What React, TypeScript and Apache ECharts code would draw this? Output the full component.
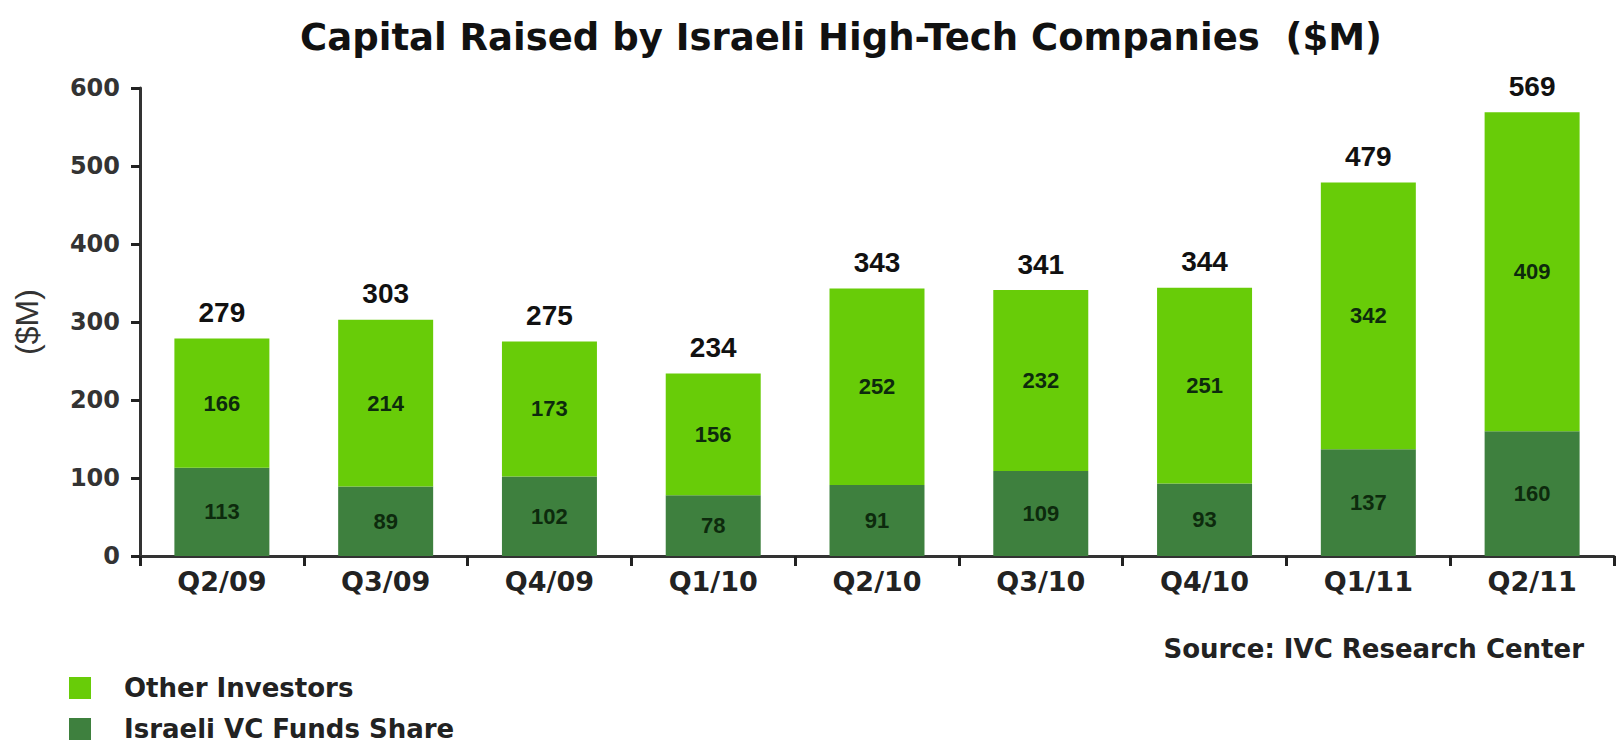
import React, { useEffect, useRef } from "react";
import * as echarts from "echarts";

const categories = ["Q2/09", "Q3/09", "Q4/09", "Q1/10", "Q2/10", "Q3/10", "Q4/10", "Q1/11", "Q2/11"];
const israeliVC = [113, 89, 102, 78, 91, 109, 93, 137, 160];
const otherInvestors = [166, 214, 173, 156, 252, 232, 251, 342, 409];
const totals = [279, 303, 275, 234, 343, 341, 344, 479, 569];
const yTicks = [0, 100, 200, 300, 400, 500, 600];
const legendNames = ["Other Investors", "Israeli VC Funds Share"];

const FONT = "Liberation Sans, Arial, sans-serif";
const WIDE = "DejaVu Sans, Verdana, sans-serif";
const LIGHT = "#68cc08";
const DARK = "#3e803e";

const legendBase = {
  orient: "horizontal",
  left: 69,
  padding: 0,
  itemWidth: 22,
  itemHeight: 22,
  icon: "rect",
  textStyle: { fontFamily: WIDE, fontSize: 26, fontWeight: "bold", color: "#222", padding: [0, 0, 0, 28] },
};

export default function App() {
  const ref = useRef<HTMLDivElement>(null);
  useEffect(() => {
    if (!ref.current) return;
    const chart = echarts.init(ref.current, undefined, { renderer: "svg" });
    chart.setOption({
      animation: false,
      backgroundColor: "#ffffff",
      title: {
        text: "Capital Raised by Israeli High-Tech Companies  ($M)",
        left: 836,
        textAlign: "center",
        top: 14,
        textStyle: { fontFamily: WIDE, fontSize: 37, fontWeight: "bold", color: "#111" },
      },
      legend: [
        { ...legendBase, data: [legendNames[0]], top: 675 },
        { ...legendBase, data: [legendNames[1]], top: 716 },
      ],
      graphic: [
        {
          type: "text",
          right: 34,
          top: 636,
          style: { text: "Source: IVC Research Center", font: `bold 26px ${WIDE}`, fill: "#222" },
        },
      ],
      grid: { left: 140, right: 4, top: 88, bottom: 187, containLabel: false },
      xAxis: {
        type: "category",
        data: categories,
        axisLine: { lineStyle: { color: "#333", width: 3 } },
        axisTick: { show: true, length: 10, lineStyle: { color: "#222", width: 3 } },
        axisLabel: { fontFamily: WIDE, fontSize: 27, fontWeight: "bold", color: "#222", margin: 12 },
      },
      yAxis: {
        type: "value",
        min: yTicks[0],
        max: yTicks[yTicks.length - 1],
        interval: 100,
        name: "($M)",
        nameLocation: "middle",
        nameGap: 97,
        nameTextStyle: { fontFamily: FONT, fontSize: 32, color: "#333" },
        axisLine: { show: true, lineStyle: { color: "#333", width: 3 } },
        axisTick: { show: true, length: 9, lineStyle: { color: "#222", width: 3 } },
        splitLine: { show: false },
        axisLabel: { fontFamily: WIDE, fontSize: 24, fontWeight: "bold", color: "#333", margin: 20 },
      },
      series: [
        {
          name: legendNames[1],
          type: "bar",
          stack: "total",
          data: israeliVC,
          barWidth: "58%",
          itemStyle: { color: DARK },
          label: { show: true, position: "inside", fontFamily: FONT, fontSize: 22, fontWeight: "bold", color: "#0d2a0d" },
        },
        {
          name: legendNames[0],
          type: "bar",
          stack: "total",
          data: otherInvestors,
          barWidth: "58%",
          itemStyle: { color: LIGHT },
          label: { show: true, position: "inside", fontFamily: FONT, fontSize: 22, fontWeight: "bold", color: "#0d2a0d" },
        },
        {
          name: "Total",
          type: "bar",
          data: totals,
          barWidth: "58%",
          barGap: "-100%",
          z: 0,
          itemStyle: { color: "rgba(0,0,0,0)" },
          label: { show: true, position: "top", distance: 12, fontFamily: FONT, fontSize: 28, fontWeight: "bold", color: "#111" },
        },
      ],
    });
    return () => chart.dispose();
  }, []);
  return <div ref={ref} style={{ position: "fixed", left: 0, top: 0, width: 1618, height: 743 }} />;
}
